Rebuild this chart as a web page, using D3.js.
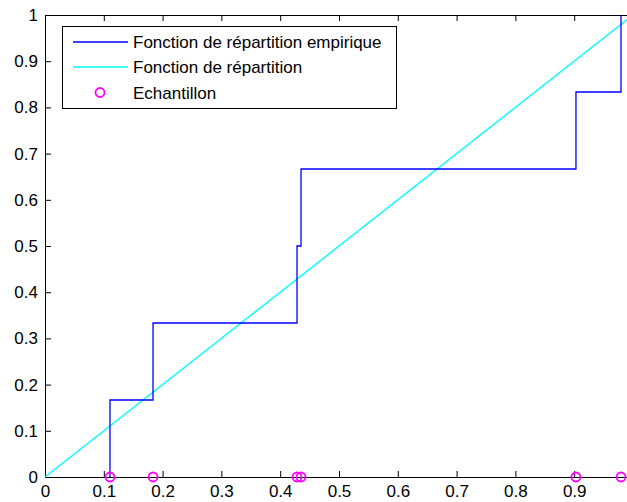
<!DOCTYPE html>
<html>
<head>
<meta charset="utf-8">
<script src="https://cdn.jsdelivr.net/npm/d3@7"></script>
<style>
  html, body { margin: 0; padding: 0; background: #fff; }
  svg { display: block; }
  text { font-family: "Liberation Sans", Arial, sans-serif; font-size: 17px; fill: #000; }
</style>
</head>
<body>
<svg id="chart" width="627" height="502"></svg>
<script>
// Sorted sample (n = 6)
const samples = [0.1105, 0.1837, 0.4286, 0.4354, 0.9030, 0.9796];
// Empirical CDF levels after each sample
const ecdfLevels = [1/6, 2/6, 3/6, 4/6, 5/6, 1];
// Theoretical uniform CDF on [0, 1]
const cdfX = [0, 1];
const cdfY = [0, 1];
const xTicks = [0, 0.1, 0.2, 0.3, 0.4, 0.5, 0.6, 0.7, 0.8, 0.9, 1];
const xTickLabels = ["0", "0.1", "0.2", "0.3", "0.4", "0.5", "0.6", "0.7", "0.8", "0.9", ""];
const yTicks = [0, 0.1, 0.2, 0.3, 0.4, 0.5, 0.6, 0.7, 0.8, 0.9, 1];
const yTickLabels = ["0", "0.1", "0.2", "0.3", "0.4", "0.5", "0.6", "0.7", "0.8", "0.9", "1"];
const legendLabels = ["Fonction de répartition empirique", "Fonction de répartition", "Echantillon"];

const svg = d3.select("#chart");
const box = { left: 45, right: 633, top: 15, bottom: 477 };

const x = d3.scaleLinear().domain([0, 1]).range([box.left, box.right]);
const y = d3.scaleLinear().domain([0, 1]).range([box.bottom, box.top]);

const plot = svg.append("g");

// Theoretical CDF
plot.append("path")
  .datum(cdfX.map((v, i) => [v, cdfY[i]]))
  .attr("fill", "none").attr("stroke", "#00ffff").attr("stroke-width", 1.4)
  .attr("d", d3.line().x(d => x(d[0])).y(d => y(d[1])));

// Empirical CDF as a staircase
const stairs = [[samples[0], 0]];
samples.forEach((s, i) => {
  stairs.push([s, ecdfLevels[i]]);
  if (i < samples.length - 1) stairs.push([samples[i + 1], ecdfLevels[i]]);
});
plot.append("path")
  .datum(stairs)
  .attr("fill", "none").attr("stroke", "#0000ff").attr("stroke-width", 1.3)
  .attr("d", d3.line().x(d => x(d[0])).y(d => y(d[1])));

// Axes box with inward ticks on all sides
const tickLen = 6;
const axB = svg.append("g").attr("transform", `translate(0,${box.bottom})`)
  .call(d3.axisBottom(x).tickValues(xTicks).tickFormat((d, i) => xTickLabels[i])
    .tickSizeInner(-tickLen).tickSizeOuter(0).tickPadding(8));
const axT = svg.append("g").attr("transform", `translate(0,${box.top})`)
  .call(d3.axisTop(x).tickValues(xTicks).tickFormat("").tickSizeInner(-tickLen).tickSizeOuter(0));
const axL = svg.append("g").attr("transform", `translate(${box.left},0)`)
  .call(d3.axisLeft(y).tickValues(yTicks).tickFormat((d, i) => yTickLabels[i])
    .tickSizeInner(-tickLen).tickSizeOuter(0).tickPadding(7));
const axR = svg.append("g").attr("transform", `translate(${box.right},0)`)
  .call(d3.axisRight(y).tickValues(yTicks).tickFormat("").tickSizeInner(-tickLen).tickSizeOuter(0));
[axB, axT, axL, axR].forEach(a => {
  a.select(".domain").attr("stroke", "#000").attr("stroke-width", 1);
  a.selectAll(".tick line").attr("stroke", "#000");
  a.selectAll("text").attr("font-family", "Liberation Sans, Arial, sans-serif").attr("font-size", 17).attr("fill", "#000");
});

// Sample markers on the x-axis
plot.selectAll("circle.sample").data(samples).join("circle")
  .attr("class", "sample")
  .attr("cx", d => x(d)).attr("cy", y(0)).attr("r", 4.5)
  .attr("fill", "none").attr("stroke", "#ff00ff").attr("stroke-width", 1.8);
plot.raise();

// Legend
const lg = svg.append("g");
lg.append("rect").attr("x", 62.5).attr("y", 26.5).attr("width", 334).attr("height", 82)
  .attr("fill", "#fff").attr("stroke", "#000").attr("stroke-width", 1);
const rowY = [42, 67, 92.5];
const styles = [
  { type: "line", color: "#0000ff" },
  { type: "line", color: "#00ffff" },
  { type: "marker", color: "#ff00ff" }
];
legendLabels.forEach((lab, i) => {
  if (styles[i].type === "line") {
    lg.append("line").attr("x1", 73).attr("x2", 128).attr("y1", rowY[i]).attr("y2", rowY[i])
      .attr("stroke", styles[i].color).attr("stroke-width", 1.4);
  } else {
    lg.append("circle").attr("cx", 100).attr("cy", rowY[i]).attr("r", 4.5)
      .attr("fill", "none").attr("stroke", styles[i].color).attr("stroke-width", 1.8);
  }
  lg.append("text").attr("x", 133).attr("y", rowY[i] + 6).text(lab);
});
</script>
</body>
</html>
